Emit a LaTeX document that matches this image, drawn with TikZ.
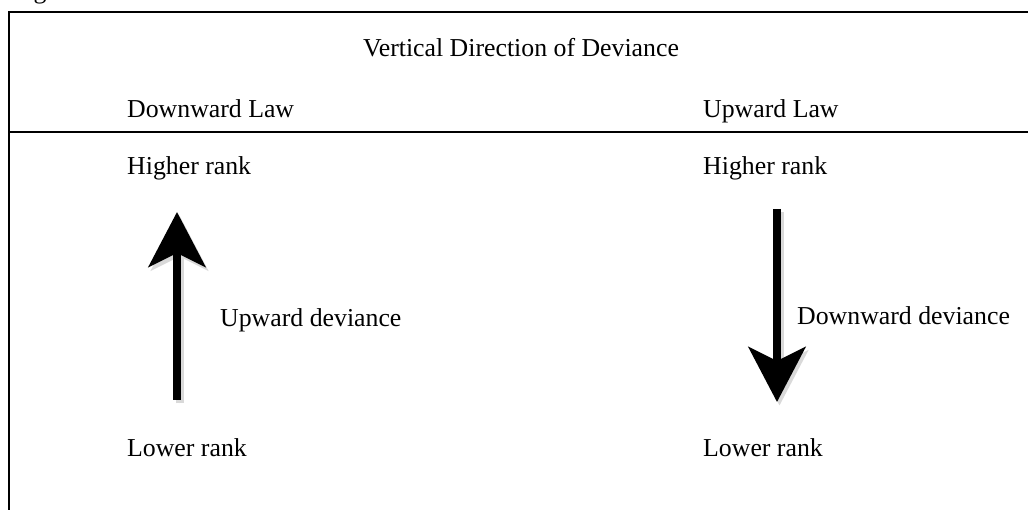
\documentclass[tikz,border=0pt]{standalone}
\usepackage{fontspec}
\setmainfont{Liberation Serif}
\usepackage{tikz}
\usetikzlibrary{arrows.meta, positioning}
\tikzset{
    frame/.style={line width=1.3pt, draw=black},
    lbl/.style={font=\fontsize{25.8}{30}\selectfont, anchor=base west, inner sep=0pt},
    devarr/.style={-{Stealth[width=57pt, length=55pt, inset=14pt]}, line width=8pt},
    devshadow/.style={devarr, draw=black!15, fill=black!15,
                      transform canvas={shift={(2.5pt,-3.5pt)}}},
}

\begin{document}
\begin{tikzpicture}[x=1pt, y=-1pt]

  \useasboundingbox (0,0) rectangle (1028,510);

  % cut-off caption above the box
  \begin{scope}
    \clip (0,0) rectangle (1028,510);
    \node[lbl] (caption) at (12,-1) {Figure};
  \end{scope}

  % frame and header rule
  \draw[frame] (9,530) -- (9,12) -- (1040,12);
  \draw[frame] (9,132) -- (1040,132);

  % header
  \node[lbl, anchor=base] (title) at (521,57) {Vertical Direction of Deviance};
  \node[lbl] (downlaw) at (127,118) {Downward Law};
  \node[lbl] (uplaw) at (703,118) {Upward Law};

  % left column
  \node[lbl] (highL) at (127,175) {Higher rank};
  \node[lbl] (lowL) at (127,456) {Lower rank};
  \node[lbl] (updev) at (220,327) {Upward deviance};

  % right column
  \node[lbl] (highR) at (703,175) {Higher rank};
  \node[lbl] (lowR) at (703,456) {Lower rank};
  \node[lbl] (downdev) at (797,325) {Downward deviance};

  % arrows
  \coordinate (upS) at (177,400);
  \coordinate (upE) at (177,212);
  \coordinate (downS) at (777,209);
  \coordinate (downE) at (777,402);

  \draw[devshadow] (upS) -- (upE);
  \draw[devshadow] (downS) -- (downE);
  \draw[devarr] (upS) -- (upE);
  \draw[devarr] (downS) -- (downE);

\end{tikzpicture}
\end{document}
